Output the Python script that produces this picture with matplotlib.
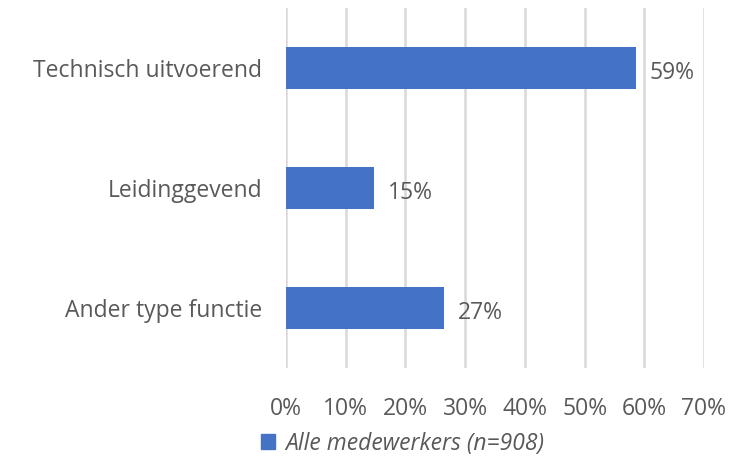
import matplotlib.pyplot as plt
from matplotlib.patches import Patch

plt.rcParams["font.family"] = ["Open Sans", "DejaVu Sans"]

categories = ["Technisch uitvoerend", "Leidinggevend", "Ander type functie"]
values = [58.6, 14.7, 26.5]
labels = ["59%", "15%", "27%"]
xticks = [0, 10, 20, 30, 40, 50, 60, 70]
series_name = "Alle medewerkers (n=908)"

bar_color = "#4472C4"
text_color = "#595959"

fig = plt.figure(figsize=(7.36, 4.59), dpi=100)
ax = fig.add_axes([0.3886, 0.198, 0.5679, 0.785])

y = list(range(len(categories)))
ax.barh(y, values, height=0.35, color=bar_color, zorder=3)
for yi, v, lab in zip(y, values, labels):
    ax.text(v + 2.3, yi + 0.04, lab, va="center", ha="left", fontsize=16.5, color=text_color)

ax.set_xlim(0, 70)
ax.set_ylim(2.5, -0.5)
ax.set_yticks(y)
ax.set_yticklabels(categories, fontsize=16.5, color=text_color)
ax.set_xticks(xticks)
ax.set_xticklabels([f"{t}%" for t in xticks], fontsize=16.5, color=text_color)
ax.tick_params(axis="both", length=0)
ax.tick_params(axis="x", pad=21)
ax.tick_params(axis="y", pad=17)
ax.grid(axis="x", color="#D9D9D9", linewidth=1.8, zorder=0)
for s in ax.spines.values():
    s.set_visible(False)

leg = fig.legend(handles=[Patch(color=bar_color)], labels=[series_name],
                 loc="center left", bbox_to_anchor=(0.327, 0.033), frameon=False,
                 handlelength=0.6, handleheight=0.6, handletextpad=0.45,
                 prop={"size": 16.5, "style": "italic"})
for t in leg.get_texts():
    t.set_color(text_color)

fig.savefig("out.png", dpi=100)
